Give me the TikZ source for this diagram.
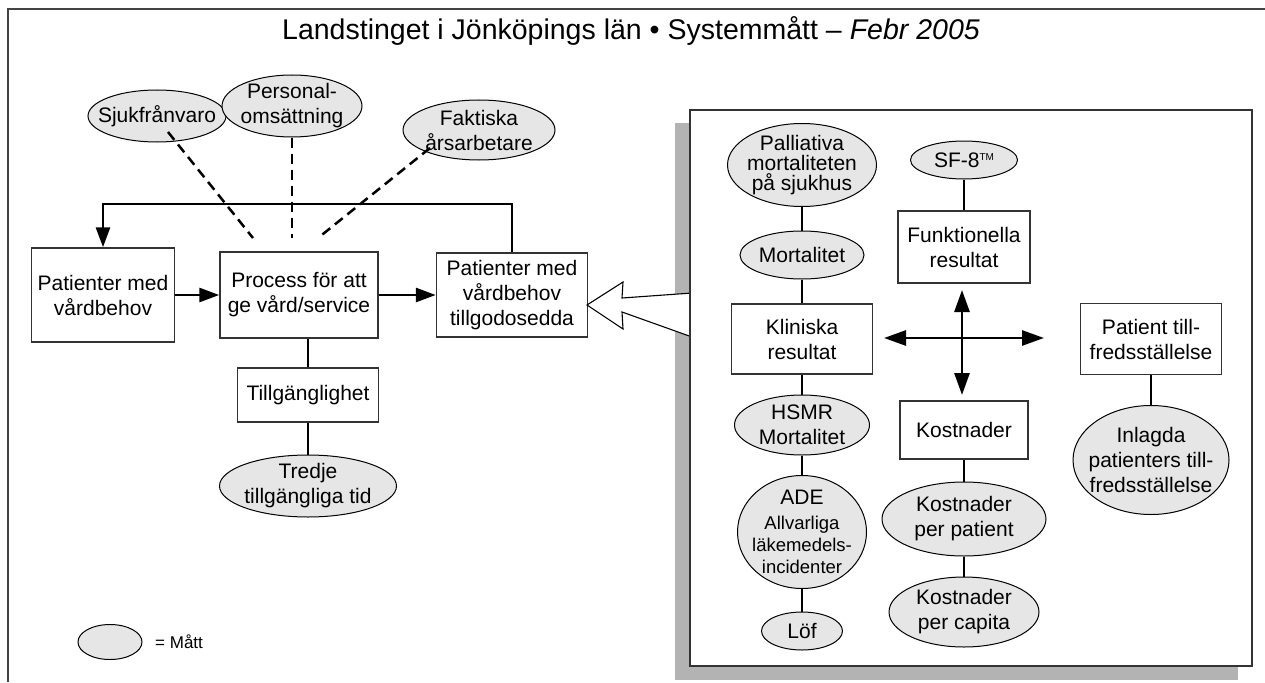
\documentclass[tikz,border=0pt]{standalone}
\usepackage{fontspec}
\setmainfont{Liberation Sans}
\usetikzlibrary{arrows.meta,shapes.geometric}

\definecolor{measfill}{HTML}{E6E6E6}
\definecolor{shadowgray}{HTML}{B3B3B3}
\definecolor{boxline}{HTML}{333333}
\definecolor{frameline}{HTML}{444444}

\begin{document}
\begin{tikzpicture}[x=1pt,y=-1pt,
  every node/.style={font=\fontsize{21}{25}\selectfont, align=center, inner sep=0pt},
  box/.style={draw=boxline, line width=1.5pt, fill=white},
  meas/.style={ellipse, draw=black, line width=1pt, fill=measfill},
  link/.style={line width=2.8pt},
  arr/.style={line width=2.8pt, -{Triangle[length=20pt,width=14pt]}},
  darr/.style={line width=2.8pt, {Triangle[length=22pt,width=15pt]}-{Triangle[length=22pt,width=15pt]}},
  dashlink/.style={line width=2.5pt, dash pattern=on 10pt off 6pt}]

\useasboundingbox (0,0) rectangle (1265,682);

% outer frame (open towards the right and bottom)
\draw[frameline, line width=2.4pt] (1265,9) -- (8,9) -- (8,682);

% title
\node[font=\fontsize{28.5}{32}\selectfont] (title) at (631,31)
  {Landstinget i Jönköpings län • Systemmått – \textit{Febr 2005}};

% ---------- measures on staff ----------
\node[meas, minimum width=138, minimum height=52,
      label={center:Sjukfrånvaro}] (sjuk) at (157,116) {};
\node[meas, minimum width=140, minimum height=62,
      label={center:Personal-\\omsättning}] (pers) at (292,106) {};
\node[meas, minimum width=152, minimum height=60,
      label={center:Faktiska\\årsarbetare}] (fakt) at (479,130) {};

% ---------- process chain ----------
\node[box, minimum width=143, minimum height=94] (lbox) at (103,295)
  {Patienter med\\vårdbehov};
\node[box, minimum width=158, minimum height=86] (proc) at (299,295)
  {Process för att\\ge vård/service};
\node[box, minimum width=151, minimum height=84] (rbox) at (512,295)
  {Patienter med\\vårdbehov\\tillgodosedda};
\node[box, minimum width=141, minimum height=54] (tillg) at (308,395)
  {Tillgänglighet};
\node[meas, minimum width=177, minimum height=62,
      label={center:Tredje\\tillgängliga tid}] (tredje) at (308,486) {};

% dashed links from staff measures to the process
\coordinate (d1) at (253,238);
\coordinate (d2) at (292,238);
\coordinate (d3) at (318,238);
\draw[dashlink] (sjuk.center) ++(11,16) -- (d1);
\draw[dashlink] (pers.south) -- (d2);
\draw[dashlink] (fakt.center) ++(-49,18) -- (d3);

% flow arrows
\draw[arr] (lbox.east) -- (proc.west);
\draw[arr] (proc.east) -- (rbox.west);
\coordinate (fb) at (0,204);
\draw[arr] (rbox.north) -- (rbox.north |- fb) -| (lbox.north);
\draw[link] (tillg.north) -- (tillg.north |- proc.south);
\draw[link] (tillg) -- (tredje);

% legend
\node[meas, minimum width=64, minimum height=35] (leg) at (110,642) {};
\node[anchor=west, font=\fontsize{17}{20}\selectfont] (legtxt) at (155,642) {= Mått};

% ---------- result panel ----------
\fill[shadowgray] (675,123) rectangle (1238,680);
\fill[white] (692,293) -- (622,298) -- (623,282) -- (587,305)
  -- (623,329) -- (622,312) -- (692,337) -- cycle;
\draw[line width=1.1pt, line join=miter] (692,293) -- (622,298) -- (623,282) -- (587,305)
  -- (623,329) -- (622,312) -- (692,337);
\draw[boxline, line width=1.5pt, fill=white] (690,110) rectangle (1252,666);

% clinical column
\node[meas, minimum width=149, minimum height=83,
      label={[font=\fontsize{21}{20}\selectfont]center:Palliativa\\mortaliteten\\på sjukhus}] (pall) at (802,165) {};
\node[meas, minimum width=124, minimum height=48,
      label={center:Mortalitet}] (mort) at (802,255) {};
\node[box, minimum width=141, minimum height=70] (klin) at (802,339)
  {Kliniska\\resultat};
\node[meas, minimum width=135, minimum height=60,
      label={center:HSMR\\Mortalitet}] (hsmr) at (802,425) {};
\node[meas, minimum width=129, minimum height=113,
      label={[font=\fontsize{18.5}{22}\selectfont]center:{\fontsize{21}{25}\selectfont ADE}\\[3pt]Allvarliga\\läkemedels-\\incidenter}] (ade) at (802,532) {};
\node[meas, minimum width=81, minimum height=38,
      label={center:Löf}] (lof) at (802,631) {};

% functional / cost column
\node[meas, minimum width=107, minimum height=38,
      label={center:SF-8\raisebox{7pt}{\fontsize{10}{10}\selectfont TM}}] (sf8) at (964,160) {};
\node[box, minimum width=132, minimum height=72] (funk) at (964,247)
  {Funktionella\\resultat};
\node[box, minimum width=128, minimum height=58] (kost) at (964,430)
  {Kostnader};
\node[meas, minimum width=164, minimum height=74,
      label={center:Kostnader\\per patient}] (kpp) at (964,519) {};
\node[meas, minimum width=150, minimum height=70,
      label={center:Kostnader\\per capita}] (kpc) at (964,612) {};

% satisfaction column
\node[box, minimum width=141, minimum height=71] (pat) at (1151,339)
  {Patient till-\\fredsställelse};
\node[meas, minimum width=156, minimum height=109,
      label={center:Inlagda\\patienters till-\\fredsställelse}] (inl) at (1151,460) {};

% links inside the panel
\draw[link] (pall) -- (mort);
\draw[link] (mort) -- (klin);
\draw[link] (klin) -- (hsmr);
\draw[link] (hsmr) -- (ade);
\draw[link] (ade) -- (lof);
\draw[link] (sf8) -- (funk);
\draw[link] (kost) -- (kpp);
\draw[link] (kpp) -- (kpc);
\draw[link] (pat) -- (inl);

% cross of double arrows
\coordinate (hl) at (884,338);
\coordinate (hr) at (1044,338);
\coordinate (vt) at (962,290);
\coordinate (vb) at (962,395);
\draw[darr] (hl) -- (hr);
\draw[darr] (vt) -- (vb);

\end{tikzpicture}
\end{document}
